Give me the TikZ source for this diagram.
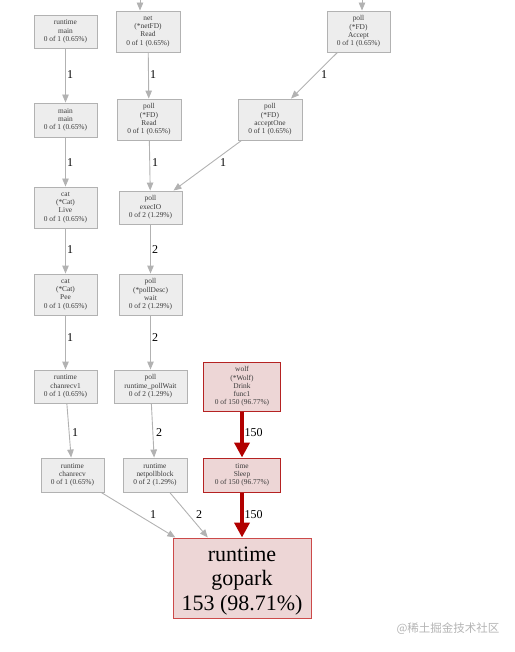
\documentclass[tikz,border=0pt]{standalone}
\usepackage{fontspec}
\setmainfont{Liberation Serif}
\newfontfamily\cjk{Noto Sans CJK SC}
\usetikzlibrary{arrows.meta}
\definecolor{edgegray}{HTML}{B2B2B2}
\definecolor{nodefill}{HTML}{EDEDED}
\definecolor{hotred}{HTML}{B20000}
\definecolor{hotborder}{HTML}{B52222}
\definecolor{goborder}{HTML}{CC4A4A}
\definecolor{hotfill}{HTML}{EDD6D6}
\definecolor{txt}{HTML}{3A3A3A}
\definecolor{wm}{HTML}{B4B4B4}
\begin{document}
\begin{tikzpicture}[x=1pt,y=-1pt,
  sz/.style 2 args={minimum width=#1pt, minimum height=#2pt},
  box/.style={draw=edgegray, fill=nodefill, line width=0.9pt, inner sep=0pt,
    align=center, font=\fontsize{7.4}{8.3}\selectfont, text=txt},
  hotbox/.style={box, draw=hotborder, fill=hotfill, line width=1pt},
  gedge/.style={draw=edgegray, line width=0.9pt, -{Triangle[width=6.5pt,length=8pt]}},
  redge/.style={draw=hotred, line width=4.7pt, -{Triangle[width=15pt,length=15pt]}},
  lbl/.style={font=\fontsize{12}{12}\selectfont, inner sep=0pt, text=black}]
\useasboundingbox (0,0) rectangle (514,652);

% nodes
\node[box, sz={63}{33}] (rm) at (65.5,31.5) {runtime\\main\\0 of 1 (0.65\%)};
\node[box, sz={64}{41}] (netRead) at (148,31.5) {net\\(*netFD)\\Read\\0 of 1 (0.65\%)};
\node[box, sz={63}{41}] (accept) at (358.5,31.5) {poll\\(*FD)\\Accept\\0 of 1 (0.65\%)};
\node[box, sz={63}{34}] (mm) at (65.5,120) {main\\main\\0 of 1 (0.65\%)};
\node[box, sz={64}{41}] (pollRead) at (149,119.5) {poll\\(*FD)\\Read\\0 of 1 (0.65\%)};
\node[box, sz={64}{41}] (acceptOne) at (270,119.5) {poll\\(*FD)\\acceptOne\\0 of 1 (0.65\%)};
\node[box, sz={63}{41}] (catLive) at (65.5,207.5) {cat\\(*Cat)\\Live\\0 of 1 (0.65\%)};
\node[box, sz={63}{33}] (execIO) at (150.5,207.5) {poll\\execIO\\0 of 2 (1.29\%)};
\node[box, sz={63}{41}] (catPee) at (65.5,294.5) {cat\\(*Cat)\\Pee\\0 of 1 (0.65\%)};
\node[box, sz={63}{41}] (pollWait) at (150.5,294.5) {poll\\(*pollDesc)\\wait\\0 of 2 (1.29\%)};
\node[box, sz={63}{33}] (chanrecv1) at (65.5,386.5) {runtime\\chanrecv1\\0 of 1 (0.65\%)};
\node[box, sz={73}{33}] (rtpw) at (150.5,386.5) {poll\\runtime\_pollWait\\0 of 2 (1.29\%)};
\node[hotbox, sz={77}{49}] (wolf) at (242,386.5) {wolf\\(*Wolf)\\Drink\\func1\\0 of 150 (96.77\%)};
\node[box, sz={63}{34}] (chanrecv) at (72.5,475) {runtime\\chanrecv\\0 of 1 (0.65\%)};
\node[box, sz={64}{34}] (npb) at (155,475) {runtime\\netpollblock\\0 of 2 (1.29\%)};
\node[hotbox, sz={77}{34}] (sleep) at (242,475) {time\\Sleep\\0 of 150 (96.77\%)};
\node[hotbox, draw=goborder, sz={138}{80}, font=\fontsize{22}{24.5}\selectfont, text=black] (gopark) at (242,578) {\rule{0pt}{20pt}runtime\\gopark\\153 (98.71\%)};

% free ends of incoming edges
\coordinate (topA) at (140,0);
\coordinate (topB) at (362,0);

% edges
\draw[gedge] (topA) -- (topA |- netRead.north);
\draw[gedge] (topB) -- (topB |- accept.north);
\draw[gedge] (rm) -- (mm);
\draw[gedge] (netRead) -- (pollRead);
\draw[gedge] (accept) -- (acceptOne);
\draw[gedge] (mm) -- (catLive);
\draw[gedge] (pollRead) -- (execIO);
\draw[gedge] (acceptOne) -- (execIO);
\draw[gedge] (catLive) -- (catPee);
\draw[gedge] (execIO) -- (pollWait);
\draw[gedge] (catPee) -- (chanrecv1);
\draw[gedge] (pollWait) -- (rtpw);
\draw[gedge] (chanrecv1) -- (chanrecv);
\draw[gedge] (rtpw) -- (npb);
\draw[gedge] (chanrecv) -- (gopark);
\draw[gedge] (npb) -- (gopark);
\draw[redge] (wolf) -- (sleep);
\draw[redge] (sleep) -- (gopark);

% edge labels
\node[lbl] (l1) at (70,75) {1};
\node[lbl] (l2) at (153,75) {1};
\node[lbl] (l3) at (324,75) {1};
\node[lbl] (l4) at (70,163) {1};
\node[lbl] (l5) at (155,163) {1};
\node[lbl] (l6) at (223,163) {1};
\node[lbl] (l7) at (70,250) {1};
\node[lbl] (l8) at (155,250) {2};
\node[lbl] (l9) at (70,338) {1};
\node[lbl] (l10) at (155,338) {2};
\node[lbl] (l11) at (75,433) {1};
\node[lbl] (l12) at (159,433) {2};
\node[lbl] (l13) at (253.5,433) {150};
\node[lbl] (l14) at (153,515) {1};
\node[lbl] (l15) at (199,515) {2};
\node[lbl] (l16) at (253.5,515) {150};

% watermark
\node[font=\cjk\fontsize{11.5}{12}\selectfont, text=wm, inner sep=0pt] (wmark) at (448,629) {@稀土掘金技术社区};
\end{tikzpicture}
\end{document}
